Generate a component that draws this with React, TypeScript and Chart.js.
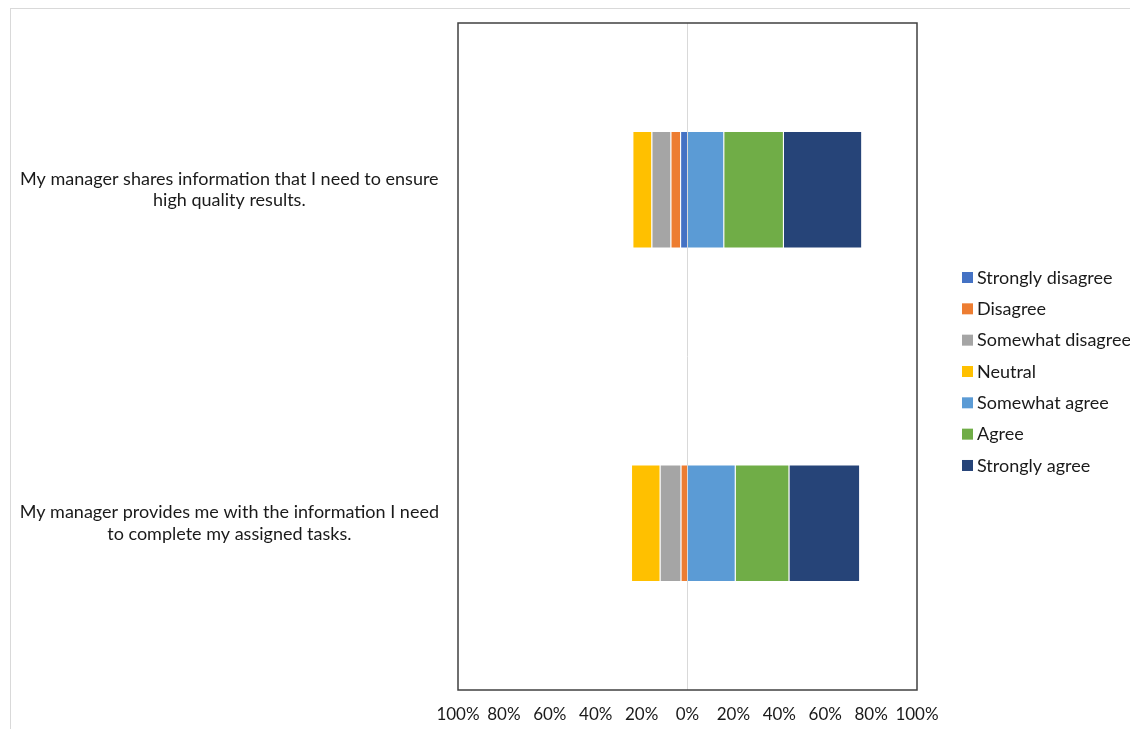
import React, { useEffect, useRef } from "react";
import { Chart, registerables } from "chart.js";

Chart.register(...registerables);

const categories: string[][] = [
  ["My manager shares information that I need to ensure", "high quality results."],
  ["My manager provides me with the information I need", "to complete my assigned tasks."],
];

const seriesNames = [
  "Strongly disagree",
  "Disagree",
  "Somewhat disagree",
  "Neutral",
  "Somewhat agree",
  "Agree",
  "Strongly agree",
];

const seriesColors = ["#4472C4", "#ED7D31", "#A5A5A5", "#FFC000", "#5B9BD5", "#70AD47", "#264478"];

// which series are plotted on the negative (left) side
const seriesNegative = [true, true, true, true, false, false, false];

// percentages per series, per category (top, bottom)
const stronglyDisagree = [3.2, 0];
const disagree = [4.2, 3.0];
const somewhatDisagree = [8.3, 9.1];
const neutral = [8.3, 12.5];
const somewhatAgree = [16.0, 21.0];
const agree = [26.0, 23.4];
const stronglyAgree = [34.1, 30.8];

const seriesValues = [stronglyDisagree, disagree, somewhatDisagree, neutral, somewhatAgree, agree, stronglyAgree];

const xTicks = [-100, -80, -60, -40, -20, 0, 20, 40, 60, 80, 100];

const FONT = "Lato";
const TEXT = "#1a1a1a";

const frameAndLegend = {
  id: "frameAndLegend",
  afterDraw(chart: any) {
    const { ctx, chartArea } = chart;
    ctx.save();
    ctx.strokeStyle = "#404040";
    ctx.lineWidth = 1.5;
    ctx.strokeRect(chartArea.left, chartArea.top, chartArea.right - chartArea.left, chartArea.bottom - chartArea.top);
    // legend
    const boxX = chartArea.right + 45;
    const textX = boxX + 15;
    const startY = 268.5;
    const step = 31.33;
    ctx.font = `18px ${FONT}`;
    ctx.textBaseline = "middle";
    ctx.textAlign = "left";
    chart.data.datasets.forEach((ds: any, i: number) => {
      const cy = startY + i * step;
      ctx.fillStyle = ds.backgroundColor;
      ctx.fillRect(boxX, cy - 5.5, 11, 11);
      ctx.fillStyle = TEXT;
      ctx.fillText(ds.label, textX, cy + 0.5);
    });
    ctx.restore();
  },
};

export default function App() {
  const ref = useRef<HTMLCanvasElement | null>(null);
  useEffect(() => {
    if (!ref.current) return;
    const datasets = seriesNames.map((name, i) => ({
      label: name,
      data: seriesValues[i].map((v) => (seriesNegative[i] ? -v : v)),
      backgroundColor: seriesColors[i],
      borderColor: "rgba(255,255,255,0.35)",
      borderWidth: 1,
      categoryPercentage: 1,
      barPercentage: 0.353,
    }));
    const chart = new Chart(ref.current, {
      type: "bar",
      data: { labels: categories, datasets },
      options: {
        indexAxis: "y",
        responsive: false,
        animation: false,
        layout: { padding: { top: 14, right: 221, left: 0, bottom: 0 } },
        plugins: { legend: { display: false }, tooltip: { enabled: false } },
        scales: {
          x: {
            stacked: true,
            min: -100,
            max: 100,
            afterBuildTicks: (scale: any) => {
              scale.ticks = xTicks.map((v) => ({ value: v }));
            },
            afterFit: (scale: any) => {
              scale.height = 39;
              scale.paddingLeft = 0;
              scale.paddingRight = 0;
            },
            grid: {
              drawTicks: false,
              color: (c: any) => (c.tick && c.tick.value === 0 ? "#d9d9d9" : "rgba(0,0,0,0)"),
              lineWidth: 1,
            },
            border: { display: false },
            ticks: {
              padding: 14,
              color: TEXT,
              font: { family: FONT, size: 17 },
              maxRotation: 0,
              autoSkip: false,
              callback: (v: any) => Math.abs(Number(v)) + "%",
            },
          },
          y: {
            stacked: true,
            afterFit: (scale: any) => {
              scale.width = 447;
              scale.paddingTop = 0;
              scale.paddingBottom = 0;
            },
            grid: { display: false },
            border: { display: false },
            ticks: {
              crossAlign: "center",
              padding: 11,
              color: TEXT,
              font: { family: FONT, size: 18, lineHeight: "21.5px" },
            },
          },
        },
      },
      plugins: [frameAndLegend],
    });
    return () => chart.destroy();
  }, []);
  return (
    <div
      style={{
        marginLeft: 2,
        width: 1127,
        height: 720,
        borderTop: "1px solid #d9d9d9",
        borderLeft: "1px solid #d9d9d9",
        position: "relative",
        overflow: "hidden",
      }}
    >
      <canvas ref={ref} width={1127} height={720} style={{ display: "block" }} />
    </div>
  );
}
